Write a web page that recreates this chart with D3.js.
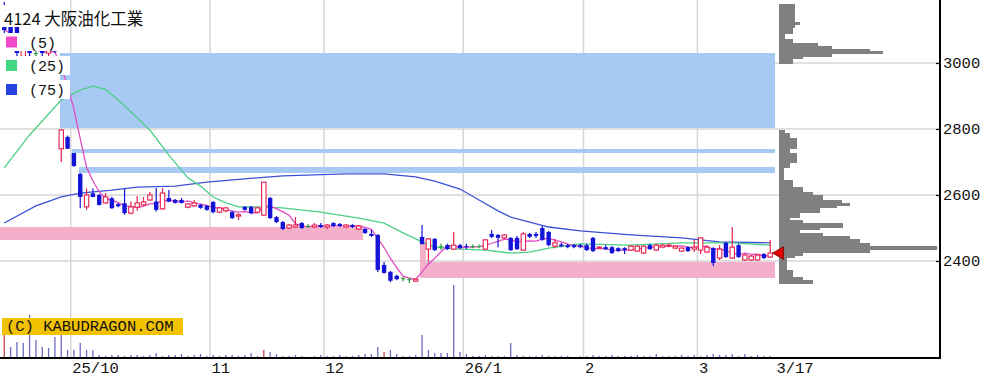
<!DOCTYPE html>
<html>
<head>
<meta charset="utf-8">
<script src="https://cdn.jsdelivr.net/npm/d3@7"></script>
<style>
body { margin: 0; background: #fff; }
svg { display: block; }
</style>
</head>
<body>
<div id="chart"></div>
<script>
// trading days shown (2025/9/12 - 2026/3/17)
const dates = [
  "9/12","9/16","9/17","9/18","9/19","9/22","9/24","9/25","9/26","9/29","9/30",
  "10/1","10/2","10/3","10/6","10/7","10/8","10/9","10/10","10/14","10/15","10/16","10/17","10/20","10/21","10/22","10/23","10/24","10/27","10/28","10/29","10/30","10/31",
  "11/4","11/5","11/6","11/7","11/10","11/11","11/12","11/13","11/14","11/17","11/18","11/19","11/20","11/21","11/25","11/26","11/27","11/28",
  "12/1","12/2","12/3","12/4","12/5","12/8","12/9","12/10","12/11","12/12","12/15","12/16","12/17","12/18","12/19","12/22","12/23","12/24","12/25","12/26","12/29","12/30",
  "1/5","1/6","1/7","1/8","1/9","1/13","1/14","1/15","1/16","1/19","1/20","1/21","1/22","1/23","1/26","1/27","1/28","1/29","1/30",
  "2/2","2/3","2/4","2/5","2/6","2/9","2/10","2/12","2/13","2/16","2/17","2/18","2/19","2/20","2/24","2/25","2/26","2/27",
  "3/2","3/3","3/4","3/5","3/6","3/9","3/10","3/11","3/12","3/13","3/16","3/17"
];

const opens = [
  3150,3120,3110,3020,3050,3030,3060,3030,3050,2740,2776,
  2727,2664,2564,2605,2600,2576,2590,2572,2575,2545,2563,2570,2585,2580,2558,2591,2585,2585,2563,2567,2570,2567,
  2579,2548,2552,2548,2536,2564,2564,2548,2539,2591,2533,2518,2500,2503,2515,2506,2503,2509,
  2503,2515,2512,2503,2509,2497,2497,2482,2479,2388,2367,2355,2348,2345,2339,2473,2436,2467,2445,2448,2436,2448,
  2445,2445,2445,2436,2482,2479,2470,2470,2470,2433,2482,2482,2500,2488,2445,2450,2448,2448,2448,
  2448,2470,2439,2442,2442,2439,2439,2433,2430,2424,2448,2433,2442,2445,2439,2430,2442,2436,
  2433,2427,2439,2409,2455,2409,2448,2403,2403,2403,2421,2412
];
const highs = [
  3185,3160,3130,3060,3070,3050,3080,3060,3070,2800,2780,
  2727,2667,2620,2620,2603,2606,2595,2576,2620,2580,2597,2594,2609,2621,2621,2615,2588,2591,2576,2585,2573,2570,
  2582,2564,2564,2552,2545,2567,2567,2564,2639,2594,2536,2521,2512,2533,2518,2512,2515,2515,
  2512,2518,2515,2512,2512,2509,2500,2494,2482,2397,2370,2358,2352,2348,2348,2509,2470,2470,2452,2452,2488,2452,
  2452,2450,2450,2467,2494,2482,2482,2473,2476,2488,2485,2488,2506,2491,2467,2455,2452,2452,2452,
  2452,2473,2445,2448,2445,2442,2442,2448,2448,2448,2452,2452,2452,2452,2448,2442,2445,2464,
  2473,2448,2442,2448,2458,2503,2452,2421,2418,2421,2424,2464
];
const lows = [
  3080,3060,3020,3000,3010,3010,3020,3020,3030,2700,2740,
  2685,2560,2555,2593,2568,2573,2558,2563,2540,2542,2552,2567,2582,2550,2555,2578,2574,2574,2560,2564,2558,2552,
  2545,2545,2548,2527,2524,2552,2542,2545,2536,2527,2515,2494,2497,2500,2497,2500,2500,2500,
  2497,2503,2503,2500,2500,2494,2482,2473,2367,2361,2336,2342,2339,2333,2336,2451,2398,2430,2433,2433,2433,2436,
  2436,2439,2439,2433,2470,2442,2467,2430,2433,2430,2470,2470,2461,2445,2439,2442,2439,2439,2439,
  2430,2427,2436,2433,2421,2427,2421,2430,2427,2421,2433,2430,2439,2442,2436,2427,2427,2427,
  2421,2424,2385,2403,2409,2406,2409,2400,2400,2400,2406,2409
];
const closes = [
  3100,3080,3030,3040,3030,3030,3030,3045,3035,2797,2740,
  2688,2594,2600,2594,2570,2594,2560,2566,2545,2564,2576,2579,2600,2555,2606,2580,2576,2576,2573,2576,2561,2555,
  2548,2561,2561,2530,2540,2555,2545,2561,2639,2530,2518,2497,2509,2509,2500,2506,2509,2503,
  2509,2506,2506,2509,2503,2506,2485,2476,2373,2364,2340,2345,2348,2345,2345,2451,2467,2433,2445,2436,2448,2439,
  2442,2445,2445,2464,2473,2470,2479,2433,2436,2482,2473,2476,2464,2448,2455,2445,2442,2442,2442,
  2433,2430,2442,2436,2424,2430,2433,2445,2445,2445,2436,2448,2448,2448,2445,2439,2430,2442,
  2470,2442,2394,2436,2412,2442,2412,2418,2415,2418,2409,2424
];
const volumes = [
  26,11,16,15,43,18,11,10,21,25,8,
  8,15,8,8,3,2,3,3,2,3,3,2,3,5,2,3,3,4,2,3,4,2,
  3,2,3,3,2,3,5,2,8,6,4,2,2,3,2,1,2,3,
  2,2,3,2,2,3,4,4,11,6,8,4,2,2,3,23,8,5,5,5,73,6,
  4,2,2,3,2,2,2,15,3,2,2,2,3,2,2,2,2,1,2,
  2,3,2,2,3,2,2,2,3,2,2,4,2,2,2,3,2,3,
  2,3,4,3,3,4,2,4,2,3,2,2
];
const redVolumeDays = ["9/12","11/14","12/12"];

// moving averages
const ma25 = [["9/12",2682],["9/19",2782],["9/29",2888],["10/2",2918],["10/6",2930],["10/8",2920],["10/10",2888],
  ["10/15",2852],["10/20",2797],["10/23",2721],["10/28",2652],["10/30",2627],["11/4",2594],["11/6",2576],["11/10",2564],
  ["11/13",2564],["11/19",2561],["11/28",2548],["12/8",2530],["12/12",2515],["12/17",2485],["12/22",2458],["12/24",2442],
  ["12/30",2436],["1/8",2433],["1/15",2424],["1/20",2427],["1/23",2439],["1/30",2452],["2/12",2448],["2/25",2455],
  ["3/9",2455],["3/17",2448]];
const ma75 = [["9/12",2515],["9/22",2567],["9/29",2594],["10/2",2606],["10/9",2615],["10/16",2624],["10/24",2627],
  ["10/31",2639],["11/13",2652],["11/19",2658],["12/4",2664],["12/12",2664],["12/19",2655],["12/24",2642],["12/30",2618],
  ["1/7",2585],["1/13",2552],["1/15",2533],["1/23",2503],["1/30",2491],["2/12",2479],["2/25",2470],["3/5",2458],["3/17",2455]];

// price gaps (窓): type, first day, last day (null = open), low, high
const gaps = [
  ["down","9/29",null,2803,3030],
  ["down","10/1",null,2727,2739],
  ["down","10/2",null,2667,2685],
  ["up",null,"12/9",2464,2503],
  ["up","12/22",null,2348,2397],
  ["up","12/22","12/23",2397,2451]
];

// volume by price
const histLow  = [3124,3118,3109,3091,3073,3061,3052,3042,3036,3030,3021,3015,3000,2788,2773,2742,2727,2700,2685,
  2645,2624,2609,2600,2585,2576,2567,2561,2548,2533,2524,2515,2503,2497,2485,2476,2467,2455,2445,2436,2427,2418,2412,2373,2352,2342,2333];
const histHigh = [3179,3124,3118,3109,3091,3073,3061,3052,3042,3036,3030,3021,3015,2797,2788,2773,2742,2727,2700,
  2682,2645,2624,2609,2600,2585,2576,2567,2561,2548,2533,2524,2515,2503,2497,2485,2476,2467,2455,2445,2436,2427,2418,2412,2373,2352,2342];
const histVol  = [16,21,16,14,6,14,39,53,91,104,53,24,14,6,11,18,11,18,11,
  5,14,24,34,44,63,71,58,41,21,11,24,64,41,21,44,71,81,91,158,91,24,16,8,14,24,34];

const priceTicks = [2400,2600,2800,3000];
const monthStarts = ["10/1","11/4","12/1","1/5","2/2","3/2"];
const monthLabels = ["25/10","11","12","26/1","2","3"];
const lastLabel = "3/17";

const W = 1007, H = 386;
const axisX = 940, axisY = 358;

const svg = d3.select("#chart").append("svg")
  .attr("width", W).attr("height", H)
  .style("font-family", "'Liberation Mono', 'DejaVu Sans Mono', monospace");

const x = d3.scaleBand().domain(dates).range([1.1, 773.4]);
const bw = x.bandwidth();
const cx = d => x(d) + bw / 2;
const y = d3.scaleLinear().domain([2400, 3000]).range([261, 63]);
const yVol = d3.scaleLinear().domain([0, 100]).range([axisY, axisY - 100]);
const xHist = d3.scaleLinear().domain([0, 160]).range([779, 939]);
const rightEnd = x(dates[dates.length - 1]) + bw + 1.5;

const candles = dates.map((d, i) => ({date: d, o: opens[i], h: highs[i], l: lows[i], c: closes[i], v: volumes[i]}));

// grid
svg.append("g").selectAll("line").data(priceTicks).join("line")
  .attr("x1", 0).attr("x2", axisX).attr("y1", d => y(d)).attr("y2", d => y(d))
  .attr("stroke", "#d6d6d6").attr("stroke-width", 1.5);
svg.append("g").selectAll("line").data(monthStarts).join("line")
  .attr("x1", d => x(d)).attr("x2", d => x(d)).attr("y1", 0).attr("y2", axisY)
  .attr("stroke", "#d6d6d6").attr("stroke-width", 1.5);

// gaps
svg.append("g").attr("shape-rendering", "crispEdges").selectAll("rect").data(gaps).join("rect")
  .attr("x", g => g[1] ? x(g[1]) + 1.5 : 0)
  .attr("width", g => (g[2] ? x(g[2]) + 1 : rightEnd) - (g[1] ? x(g[1]) + 1.5 : 0))
  .attr("y", g => y(g[4]))
  .attr("height", g => y(g[3]) - y(g[4]))
  .attr("fill", g => g[0] === "down" ? "#a9c9f5" : "#f4afcb");

// volume by price histogram
svg.append("g").attr("shape-rendering", "crispEdges").selectAll("rect").data(histVol).join("rect")
  .attr("x", xHist(0))
  .attr("y", (v, i) => y(histHigh[i]))
  .attr("width", v => xHist(v) - xHist(0))
  .attr("height", (v, i) => y(histLow[i]) - y(histHigh[i]) + 0.6)
  .attr("fill", "#808080");

// moving averages
const ma5 = candles.map((d, i) => {
  const win = closes.slice(Math.max(0, i - 4), i + 1);
  return [d.date, d3.mean(win)];
});
const line = d3.line().x(d => cx(d[0])).y(d => y(d[1]));
const plot = svg.append("g");
plot.append("path").datum(ma75).attr("d", line).attr("fill", "none").attr("stroke", "#3b52d4").attr("stroke-width", 1.3);
plot.append("path").datum(ma25).attr("d", line).attr("fill", "none").attr("stroke", "#4ccf86").attr("stroke-width", 1.3);
plot.append("path").datum(ma5).attr("d", line).attr("fill", "none").attr("stroke", "#e04cc6").attr("stroke-width", 1.3);

// candles
const colorOf = d => d.c > d.o ? "#e8204e" : d.c < d.o ? "#1414d8" : "#2a9a3a";
const cg = svg.append("g").selectAll("g").data(candles).join("g");
cg.append("line")
  .attr("x1", d => cx(d.date)).attr("x2", d => cx(d.date))
  .attr("y1", d => y(d.h)).attr("y2", d => y(d.l))
  .attr("stroke", colorOf).attr("stroke-width", 1.2);
cg.append("rect")
  .attr("x", d => cx(d.date) - 2.2)
  .attr("width", 4.4)
  .attr("y", d => y(Math.max(d.o, d.c)))
  .attr("height", d => Math.max(1, Math.abs(y(d.o) - y(d.c))))
  .attr("fill", d => d.c > d.o ? "#fff" : colorOf(d))
  .attr("stroke", colorOf)
  .attr("stroke-width", d => d.c > d.o ? 1.1 : 0);

// volume
svg.append("g").selectAll("line").data(candles).join("line")
  .attr("x1", d => cx(d.date)).attr("x2", d => cx(d.date))
  .attr("y1", yVol(0)).attr("y2", d => yVol(d.v))
  .attr("stroke", d => redVolumeDays.includes(d.date) ? "#c84a4a" : "#6b6bc4")
  .attr("stroke-width", 1.3);

// right price axis
const yAxis = svg.append("g")
  .attr("transform", `translate(${axisX},0)`)
  .call(d3.axisRight(y).tickValues(priceTicks).tickSize(-4).tickPadding(3).tickFormat(d3.format("d")));
yAxis.select(".domain").remove();
yAxis.selectAll("line").attr("stroke", "#000").attr("stroke-width", 1.2);
yAxis.selectAll("text").attr("font-size", "15.5px").attr("font-family", "'Liberation Mono', monospace").attr("fill", "#111");

// bottom axis
const xAxis = svg.append("g")
  .attr("transform", `translate(0,${axisY})`)
  .call(d3.axisBottom(x).tickValues(monthStarts.concat([lastLabel])).tickSize(0).tickPadding(4)
    .tickFormat(d => d === lastLabel ? lastLabel : monthLabels[monthStarts.indexOf(d)]));
xAxis.select(".domain").remove();
xAxis.selectAll("text")
  .attr("text-anchor", "start")
  .attr("dx", d => d === lastLabel ? bw / 2 + 3 : -bw / 2 + 1.5)
  .attr("font-size", "15.5px").attr("font-family", "'Liberation Mono', monospace").attr("fill", "#111");

svg.append("line").attr("x1", 0).attr("x2", axisX + 1).attr("y1", axisY).attr("y2", axisY)
  .attr("stroke", "#000").attr("stroke-width", 2);
svg.append("line").attr("x1", axisX).attr("x2", axisX).attr("y1", 0).attr("y2", axisY + 1)
  .attr("stroke", "#000").attr("stroke-width", 2);

// last price marker
const last = candles[candles.length - 1];
svg.append("path")
  .attr("d", d3.symbol(d3.symbolTriangle, 70)())
  .attr("transform", `translate(${rightEnd + 5},${y(last.c)}) rotate(-90)`)
  .attr("fill", "#e00000").attr("stroke", "#700").attr("stroke-width", 0.8);

// legend
const legendRows = [["(5)", "#f048c8", 33, 51], ["(25)", "#44d884", 56, 75], ["(75)", "#2443de", 80, 99]];
svg.append("rect").attr("x", 0).attr("y", 5).attr("width", 70).attr("height", 22).attr("fill", "#fff");
svg.append("text").attr("x", 4).attr("y", 25)
  .attr("font-family", "'Noto Sans CJK JP', sans-serif").attr("font-size", "16.5px").attr("fill", "#111")
  .text("4124 大阪油化工業");
const lg = svg.append("g").selectAll("g").data(legendRows).join("g");
lg.append("rect").attr("x", 0).attr("y", d => d[2]).attr("width", 70).attr("height", d => d[3] - d[2]).attr("fill", "#fff");
lg.append("rect").attr("x", 6).attr("y", d => (d[2] + d[3]) / 2 - 5.5).attr("width", 11).attr("height", 11).attr("fill", d => d[1]);
lg.append("text").attr("x", 29).attr("y", d => (d[2] + d[3]) / 2 + 5.5)
  .attr("font-size", "15px").attr("fill", "#111").text(d => d[0]);

// copyright label
svg.append("rect").attr("x", 2).attr("y", 318).attr("width", 181).attr("height", 17).attr("fill", "#f2c200");
svg.append("text").attr("x", 6).attr("y", 331).attr("font-size", "15.5px").attr("fill", "#111")
  .text("(C) KABUDRAGON.COM");
</script>
</body>
</html>
